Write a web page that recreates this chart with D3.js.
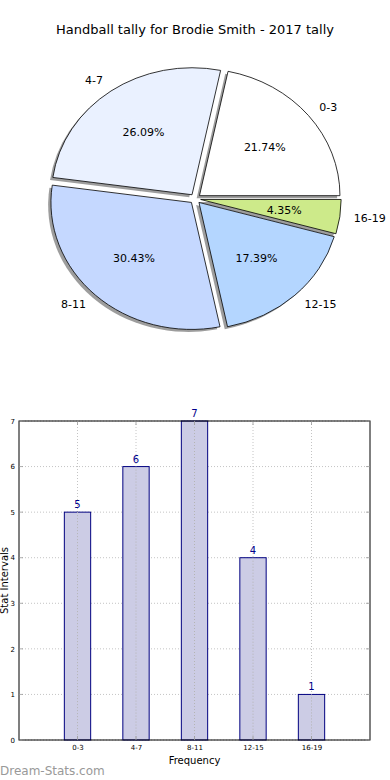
<!DOCTYPE html>
<html>
<head>
<meta charset="utf-8">
<script src="https://cdn.jsdelivr.net/npm/d3@7/dist/d3.min.js"></script>
<style>
  html, body { margin: 0; padding: 0; background: #fff; }
  svg { display: block; font-family: "DejaVu Sans", sans-serif; }
</style>
</head>
<body>
<svg id="chart" width="390" height="780"></svg>
<script>
const categories = ["0-3", "4-7", "8-11", "12-15", "16-19"];
const counts = [5, 6, 7, 4, 1];
const pieColors = ["#ffffff", "#eaf1ff", "#c5d8ff", "#b4d6ff", "#cdea8a"];
const yTicks = [0, 1, 2, 3, 4, 5, 6, 7];
const chartTitle = "Handball tally for Brodie Smith - 2017 tally";

const svg = d3.select("#chart");

// Title
svg.append("text").attr("x", 195).attr("y", 34).attr("text-anchor", "middle")
  .attr("font-size", 13).attr("fill", "#000").text(chartTitle);

// ---------- Pie ----------
const cx = 195.2, cy = 198.8, rx = 140.5, ry = 127;
const sy = ry / rx;
const explodeR = 5.5;
const total = d3.sum(counts);
let acc = 0;
const slices = counts.map((c, i) => {
  const t1 = acc / total * 2 * Math.PI;
  acc += c;
  const t2 = acc / total * 2 * Math.PI;
  return { i, c, t1, t2, tm: (t1 + t2) / 2 };
});
const arc = d3.arc().innerRadius(0).outerRadius(rx);
const pieG = svg.append("g").attr("transform", `translate(${cx},${cy}) scale(1,${sy})`);

function wedgePath(s) {
  return arc({ startAngle: Math.PI / 2 - s.t2, endAngle: Math.PI / 2 - s.t1 });
}
// shadows
slices.forEach(s => {
  const ox = explodeR * Math.cos(s.tm), oy = -explodeR * Math.sin(s.tm);
  pieG.append("path").attr("d", wedgePath(s))
    .attr("transform", `translate(${ox - 2.8},${oy + 2.5 / sy})`)
    .attr("fill", "#4d4d4d").attr("opacity", 0.55);
});
// wedges
slices.forEach(s => {
  const ox = explodeR * Math.cos(s.tm), oy = -explodeR * Math.sin(s.tm);
  pieG.append("path").attr("d", wedgePath(s))
    .attr("transform", `translate(${ox},${oy})`)
    .attr("fill", pieColors[s.i]).attr("stroke", "#000")
    .attr("stroke-width", 0.8).attr("vector-effect", "non-scaling-stroke");
});
// labels
slices.forEach(s => {
  const ex = cx + explodeR * Math.cos(s.tm), ey = cy - explodeR * sy * Math.sin(s.tm);
  const lx = ex + 1.1 * rx * Math.cos(s.tm), ly = ey - 1.1 * ry * Math.sin(s.tm);
  svg.append("text").attr("x", lx).attr("y", ly).attr("dy", "0.35em")
    .attr("text-anchor", Math.cos(s.tm) > 0 ? "start" : "end")
    .attr("font-size", 11).attr("fill", "#000").text(categories[s.i]);
  const px = ex + 0.6 * rx * Math.cos(s.tm), py = ey - 0.6 * ry * Math.sin(s.tm);
  svg.append("text").attr("x", px).attr("y", py).attr("dy", "0.35em")
    .attr("text-anchor", "middle").attr("font-size", 11).attr("fill", "#000")
    .text((s.c / total * 100).toFixed(2) + "%");
});

// ---------- Bar chart ----------
const pLeft = 19, pRight = 370, pTop = 421, pBottom = 740;
const x = d3.scaleLinear().domain([-1, 5]).range([pLeft, pRight]);
const y = d3.scaleLinear().domain([0, 7]).range([pBottom, pTop]);
const barW = 0.45;
const bg = svg.append("g");
const gridColor = "#c4c4c4";

// grid
bg.selectAll(".hg").data(yTicks).join("line")
  .attr("x1", pLeft).attr("x2", pRight).attr("y1", d => y(d)).attr("y2", d => y(d))
  .attr("stroke", gridColor).attr("stroke-width", 1).attr("stroke-dasharray", "1,2");
bg.selectAll(".vg").data(categories).join("line")
  .attr("x1", (d, i) => x(i)).attr("x2", (d, i) => x(i)).attr("y1", pTop).attr("y2", pBottom)
  .attr("stroke", gridColor).attr("stroke-width", 1).attr("stroke-dasharray", "1,2");

// bars
bg.selectAll(".bar").data(counts).join("rect")
  .attr("x", (d, i) => x(i - barW / 2)).attr("width", x(barW) - x(0))
  .attr("y", d => y(d)).attr("height", d => y(0) - y(d))
  .attr("fill", "#cccce5").attr("stroke", "#000080").attr("stroke-width", 1);
// grid visible over bars
bg.selectAll(".vg2").data(categories).join("line")
  .attr("x1", (d, i) => x(i)).attr("x2", (d, i) => x(i))
  .attr("y1", (d, i) => y(counts[i])).attr("y2", pBottom)
  .attr("stroke", "#b4b4b4").attr("stroke-width", 1).attr("stroke-dasharray", "1,2");

// value labels
bg.selectAll(".vl").data(counts).join("text")
  .attr("x", (d, i) => x(i)).attr("y", d => y(d) - 4)
  .attr("text-anchor", "middle").attr("font-size", 10).attr("fill", "#00008b").text(d => d);

// frame
bg.append("rect").attr("x", pLeft).attr("y", pTop).attr("width", pRight - pLeft).attr("height", pBottom - pTop)
  .attr("fill", "none").attr("stroke", "#000").attr("stroke-width", 1);

// axes
const yAxis = d3.axisLeft(y).tickValues(yTicks).tickFormat(d3.format("d")).tickSize(0).tickPadding(4);
const yg = bg.append("g").attr("transform", `translate(${pLeft},0)`).call(yAxis);
yg.select(".domain").remove();
yg.selectAll("text").attr("font-size", 7).attr("font-family", "DejaVu Sans, sans-serif");
const xAxis = d3.axisBottom(x).tickValues(d3.range(categories.length)).tickFormat(i => categories[i]).tickSize(0).tickPadding(5);
const xg = bg.append("g").attr("transform", `translate(0,${pBottom})`).call(xAxis);
xg.select(".domain").remove();
xg.selectAll("text").attr("font-size", 7).attr("font-family", "DejaVu Sans, sans-serif");

// inward tick marks
yTicks.forEach(t => {
  bg.append("line").attr("x1", pLeft).attr("x2", pLeft + 4).attr("y1", y(t)).attr("y2", y(t)).attr("stroke", "#999").attr("stroke-width", 0.8);
  bg.append("line").attr("x1", pRight - 4).attr("x2", pRight).attr("y1", y(t)).attr("y2", y(t)).attr("stroke", "#999").attr("stroke-width", 0.8);
});
categories.forEach((c, i) => {
  bg.append("line").attr("x1", x(i)).attr("x2", x(i)).attr("y1", pBottom).attr("y2", pBottom - 4).attr("stroke", "#999").attr("stroke-width", 0.8);
  bg.append("line").attr("x1", x(i)).attr("x2", x(i)).attr("y1", pTop).attr("y2", pTop + 4).attr("stroke", "#999").attr("stroke-width", 0.8);
});

// axis labels
svg.append("text").attr("x", (pLeft + pRight) / 2).attr("y", 764).attr("text-anchor", "middle")
  .attr("font-size", 10).attr("fill", "#000").text("Frequency");
svg.append("text").attr("transform", `translate(8,${(pTop + pBottom) / 2}) rotate(-90)`)
  .attr("text-anchor", "middle").attr("font-size", 10).attr("fill", "#000").text("Stat Intervals");

// watermark
svg.append("text").attr("x", 0).attr("y", 775).attr("font-size", 12)
  .attr("fill", "#999999").text("Dream-Stats.com");
</script>
</body>
</html>
